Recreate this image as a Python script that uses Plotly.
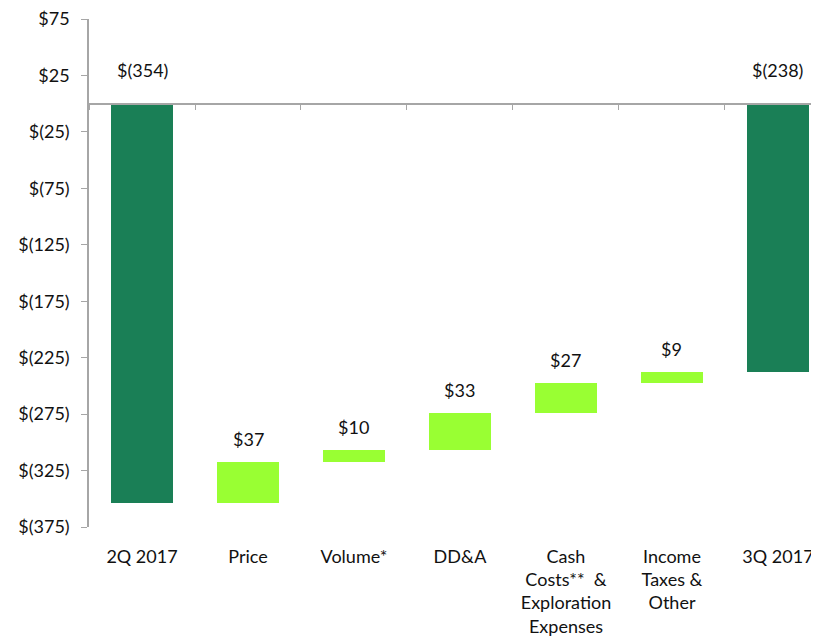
import plotly.graph_objects as go

categories = ["2Q 2017", "Price", "Volume*", "DD&A",
              "Cash<br>Costs**  &<br>Exploration<br>Expenses",
              "Income<br>Taxes &<br>Other", "3Q 2017"]
values = [-354, 37, 10, 33, 27, 9, -238]
kinds = ["total", "delta", "delta", "delta", "delta", "delta", "total"]
labels = ["$(354)", "$37", "$10", "$33", "$27", "$9", "$(238)"]
y_tickvals = [75, 25, -25, -75, -125, -175, -225, -275, -325, -375]
y_ticktext = ["$75", "$25", "$(25)", "$(75)", "$(125)", "$(175)", "$(225)",
              "$(275)", "$(325)", "$(375)"]

DARK = "#1A7F56"
LIGHT = "#99FF33"
FONT = "Lato"
FS = 18

bases, heights, colors, tops = [], [], [], []
running = 0
for v, k in zip(values, kinds):
    if k == "total":
        bases.append(0)
        heights.append(v)
        colors.append(DARK)
        tops.append(0)
        running = v
    else:
        bases.append(running)
        heights.append(v)
        colors.append(LIGHT)
        running += v
        tops.append(running)

fig = go.Figure()
fig.add_trace(go.Bar(x=categories, y=heights, base=bases, marker_color=colors,
                     marker_line_width=0, width=0.585, showlegend=False,
                     hoverinfo="skip"))
# invisible trace for the zero-line axis
fig.add_trace(go.Scatter(x=categories, y=[0]*len(categories), xaxis="x2",
                         mode="markers", marker_opacity=0, showlegend=False,
                         hoverinfo="skip"))

for c, t, lab, k in zip(categories, tops, labels, kinds):
    fig.add_annotation(x=c, y=t, text=lab, showarrow=False, yanchor="bottom",
                       yshift=21 if k == "total" else 10,
                       font=dict(family=FONT, size=FS, color="#111"))

xr = [-0.5, 6.387]
fig.update_layout(
    width=811, height=632,
    margin=dict(l=81, r=0, t=11, b=113, autoexpand=False),
    plot_bgcolor="white", paper_bgcolor="white",
    font=dict(family=FONT, size=FS, color="#111"),
    bargap=0,
    xaxis=dict(type="category", categoryarray=categories, range=xr,
               showline=False, showgrid=False, ticks="outside", ticklen=13,
               tickcolor="rgba(0,0,0,0)", tickfont=dict(family=FONT, size=FS),
               automargin=False, ticklabeloverflow="allow"),
    xaxis2=dict(type="category", categoryarray=categories, range=xr,
                overlaying="x", anchor="free", position=1 - 75 / 450,
                showline=True, linecolor="#A6A6A6", linewidth=1.5,
                ticks="outside", tickson="boundaries", ticklen=6,
                tickcolor="#A6A6A6", showticklabels=False, showgrid=False),
    yaxis=dict(range=[-375, 75.001], tickvals=y_tickvals, ticktext=y_ticktext,
               showline=True, linecolor="#A6A6A6", linewidth=1.5,
               ticks="outside", ticklen=6, tickcolor="#A6A6A6",
               ticklabelstandoff=8, automargin=False,
               ticklabeloverflow="allow",
               showgrid=False, zeroline=False,
               tickfont=dict(family=FONT, size=FS)),
)

fig.write_html("out.html")
